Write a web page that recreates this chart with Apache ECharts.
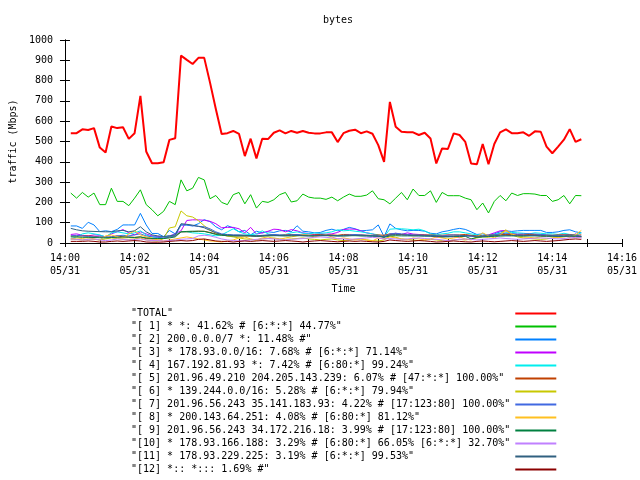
<!DOCTYPE html>
<html>
<head>
<meta charset="utf-8">
<script src="https://cdn.jsdelivr.net/npm/echarts@6/dist/echarts.min.js"></script>
<style>html,body{margin:0;padding:0;background:#fff;}#c{width:640px;height:480px;}</style>
</head>
<body>
<div id="c"></div>
<script>
// sampling grid: seconds after 14:00, first sample at 14:00:10, one every 10 s
const firstSec = 10;
const stepSec = 10;
const xTickLabels = ['14:00','14:02','14:04','14:06','14:08','14:10','14:12','14:14','14:16'];
const dateLabel = '05/31';

const names = [
  '"TOTAL"',
  '"[ 1] * *: 41.62% # [6:*:*] 44.77%"',
  '"[ 2] 200.0.0.0/7 *: 11.48% #"',
  '"[ 3] * 178.93.0.0/16: 7.68% # [6:*:*] 71.14%"',
  '"[ 4] 167.192.81.93 *: 7.42% # [6:80:*] 99.24%"',
  '"[ 5] 201.96.49.210 204.205.143.239: 6.07% # [47:*:*] 100.00%"',
  '"[ 6] * 139.244.0.0/16: 5.28% # [6:*:*] 79.94%"',
  '"[ 7] 201.96.56.243 35.141.183.93: 4.22% # [17:123:80] 100.00%"',
  '"[ 8] * 200.143.64.251: 4.08% # [6:80:*] 81.12%"',
  '"[ 9] 201.96.56.243 34.172.216.18: 3.99% # [17:123:80] 100.00%"',
  '"[10] * 178.93.166.188: 3.29% # [6:80:*] 66.05% [6:*:*] 32.70%"',
  '"[11] * 178.93.229.225: 3.19% # [6:*:*] 99.53%"',
  '"[12] *:: *::: 1.69% #"'
];

const total = [541,541,560,557,566,470,446,574,566,570,513,541,725,451,393,393,398,508,516,923,
  902,882,912,912,790,660,537,541,552,537,428,514,417,514,512,543,555,540,552,543,
  552,543,540,540,545,545,497,541,553,558,541,550,538,482,400,695,573,548,545,545,
  532,543,515,392,466,463,540,532,498,392,388,488,388,488,545,560,541,541,545,528,
  550,548,475,442,475,509,561,498,511];
const s1 = [246,221,249,226,246,189,189,270,205,205,184,221,262,189,164,134,156,205,189,311,
  257,270,323,311,218,234,200,189,238,249,193,238,172,205,200,213,238,249,202,208,
  241,226,221,221,215,226,208,226,241,230,230,236,257,218,213,193,221,249,213,266,
  234,234,257,200,249,233,233,233,221,213,164,197,148,205,234,208,246,234,243,243,
  241,234,234,205,213,234,193,234,233];
const s2 = [84,84,72,102,89,56,60,56,67,89,89,89,146,89,47,47,31,62,45,90,
  88,84,95,115,105,80,65,85,75,55,62,40,58,50,55,52,60,62,55,85,
  58,55,50,52,62,68,60,67,77,70,60,62,65,89,31,94,72,65,60,62,
  62,58,48,45,55,60,67,72,67,55,42,45,38,45,55,60,57,60,62,62,
  62,62,52,52,55,62,65,55,50];
const s3 = [42,45,38,35,40,38,30,45,55,66,50,40,55,45,35,32,30,35,45,60,
  111,114,114,112,107,95,75,77,77,70,50,77,44,50,58,68,66,55,66,60,
  50,47,42,45,43,45,52,66,69,68,60,50,45,35,30,40,48,42,50,44,
  42,40,35,28,30,33,30,28,35,36,28,32,40,50,60,62,45,42,40,38,
  38,40,38,36,38,40,30,45,25];
const s4 = [20,30,45,50,45,40,30,50,55,50,45,50,60,40,30,28,30,35,40,55,
  55,50,48,45,40,35,40,55,70,55,45,40,45,60,45,40,38,42,50,55,
  48,45,50,48,50,55,65,60,62,58,55,50,45,40,30,68,70,70,68,65,
  68,60,45,40,45,48,55,55,50,45,40,35,38,42,48,50,52,50,48,45,
  50,48,45,45,42,48,42,40,50];
const s5 = [35,35,35,35,33,30,28,30,35,30,30,28,30,22,20,20,22,30,35,55,
  55,56,58,58,52,45,40,35,35,35,35,35,33,35,38,40,38,40,42,40,
  40,38,40,42,40,40,38,42,42,40,40,38,38,40,38,45,45,42,42,40,
  40,40,40,38,38,40,40,40,42,38,35,35,38,40,42,42,42,40,40,42,
  42,40,38,38,40,40,42,38,40];
const s6 = [20,18,15,20,18,15,20,25,22,20,18,20,25,15,12,10,22,74,80,158,
  134,128,110,85,65,50,40,35,30,25,20,18,15,20,22,25,20,18,20,22,
  25,20,18,15,18,20,15,12,15,18,20,15,12,10,15,35,28,20,18,15,
  12,15,18,15,12,10,15,18,15,20,25,30,28,35,45,65,40,30,25,22,
  20,18,20,25,28,30,35,30,28];
const s7 = [35,38,35,32,30,30,28,30,35,38,35,40,45,35,30,28,25,30,35,88,
  90,85,82,80,70,55,45,42,40,40,38,36,35,38,40,42,40,38,40,42,
  40,38,36,38,40,38,36,38,40,42,40,38,36,35,30,45,48,45,42,40,
  40,38,38,36,35,38,40,38,36,34,32,34,36,40,45,48,46,44,45,46,
  44,42,40,38,36,38,40,36,34];
const s8 = [20,25,22,28,20,15,35,40,30,25,45,60,40,30,25,15,10,15,20,25,
  30,25,20,15,10,8,5,10,15,25,30,20,15,25,30,22,18,25,30,35,
  40,38,30,35,40,30,20,25,20,15,20,15,10,25,20,30,25,20,15,25,
  20,15,20,30,25,20,25,30,20,15,30,50,35,25,40,60,45,35,30,28,
  25,30,35,30,25,35,28,40,62];
const s9 = [30,30,28,28,27,26,25,27,28,30,28,27,30,25,22,22,22,25,30,55,
  57,58,58,57,50,42,38,36,35,35,35,35,34,34,35,36,36,35,35,36,
  36,35,35,36,36,36,35,35,36,36,35,35,34,33,28,35,36,35,35,35,
  35,34,34,33,30,30,32,32,33,20,28,30,32,33,34,35,35,35,34,35,
  35,34,33,33,32,33,34,33,32];
const s10 = [20,18,15,18,20,15,12,15,20,18,15,18,20,15,12,12,10,12,15,18,
  20,22,35,38,35,28,20,15,12,10,12,15,18,20,22,20,18,15,18,20,
  22,25,28,30,28,25,22,20,18,20,22,25,28,25,20,22,20,18,20,22,
  25,22,20,18,15,12,15,18,20,18,15,18,20,22,25,22,20,18,20,22,
  24,25,24,22,20,22,25,28,26];
const s11 = [72,65,60,58,57,56,55,55,60,62,55,60,80,55,40,35,32,35,40,95,
  92,88,82,75,62,50,42,40,38,38,38,36,35,36,38,38,36,36,38,38,
  36,35,36,38,38,36,35,35,36,38,36,35,34,33,30,40,42,40,38,36,
  36,35,34,33,32,32,34,35,36,34,33,33,34,36,38,38,37,36,37,38,
  37,36,35,34,33,34,35,33,32];
const s12 = [8,8,8,10,8,5,5,8,10,8,10,12,10,5,4,4,5,8,10,12,
  10,12,18,20,15,10,8,8,5,8,10,8,10,12,10,8,10,12,10,8,
  5,8,10,12,10,8,6,8,10,8,10,8,6,5,8,15,12,10,8,10,
  12,10,8,5,6,8,10,8,6,5,8,10,8,6,8,10,12,10,8,10,
  12,10,8,10,12,15,18,20,18];

const seriesValues = [total,s1,s2,s3,s4,s5,s6,s7,s8,s9,s10,s11,s12];
const colors = ['#ff0000','#00c000','#0080ff','#c000ff','#00eeee','#c04000','#c8c800',
  '#4169e1','#ffc020','#008040','#c080ff','#306080','#8b0000'];

const FONT = 'DejaVu Sans Mono';
const legendChars = 63;
const series = seriesValues.map((vals, si) => ({
  name: names[si],
  type: 'line',
  xAxisIndex: 0, yAxisIndex: 0,
  symbol: 'none',
  animation: false,
  lineStyle: { width: si === 0 ? 2 : 1, color: colors[si] },
  itemStyle: { color: colors[si] },
  data: vals.map((v, i) => [firstSec + i * stepSec, v])
}));

const legendData = names.map((n, i) => ({
  name: n,
  icon: 'rect',
  itemStyle: { color: colors[i], borderWidth: 0, borderColor: colors[i], opacity: 1 },
  lineStyle: { color: colors[i], width: 0, opacity: 0 }
}));

const chart = echarts.init(document.getElementById('c'), null, { renderer: 'canvas' });
chart.setOption({
  animation: false,
  backgroundColor: '#fff',
  textStyle: { fontFamily: FONT },
  title: {
    text: 'bytes', left: 318, top: 10,
    textStyle: { fontFamily: FONT, fontSize: 10, fontWeight: 'normal', color: '#000' }
  },
  grid: { left: 59, right: 18, top: 40, bottom: 237, containLabel: false },
  xAxis: [{
    type: 'value', min: 0, max: 960, interval: 120,
    name: 'Time', nameLocation: 'middle', nameGap: 41,
    nameTextStyle: { fontFamily: FONT, fontSize: 10, color: '#000' },
    axisLine: { show: true, lineStyle: { color: '#000', width: 1 } },
    axisTick: { show: true, inside: true, length: 4, lineStyle: { color: '#000' } },
    minorTick: { show: true, splitNumber: 2, length: 4, lineStyle: { color: '#000' } },
    splitLine: { show: false },
    axisLabel: {
      fontFamily: FONT, fontSize: 10, color: '#000', margin: 9, lineHeight: 13,
      showMinLabel: true, showMaxLabel: true, hideOverlap: false,
      formatter: v => xTickLabels[Math.round(v / 120)] + '\n' + dateLabel
    }
  }, {
    type: 'value', min: 0, max: 960, interval: 120, position: 'top',
    axisLine: { show: true, lineStyle: { color: '#000', width: 1 } },
    axisTick: { show: true, inside: true, length: 4, lineStyle: { color: '#000' } },
    minorTick: { show: true, splitNumber: 2, length: 4, lineStyle: { color: '#000' } },
    splitLine: { show: false },
    axisLabel: { show: false }
  }],
  yAxis: [{
    type: 'value', min: 0, max: 1000, interval: 100,
    name: 'traffic (Mbps)', nameLocation: 'middle', nameGap: 46, nameRotate: 90,
    nameTextStyle: { fontFamily: FONT, fontSize: 10, color: '#000' },
    axisLine: { show: true, lineStyle: { color: '#000', width: 1 } },
    axisTick: { show: true, inside: true, length: 5, lineStyle: { color: '#000' } },
    splitLine: { show: false },
    axisLabel: { fontFamily: FONT, fontSize: 10, color: '#000', margin: 12, formatter: v => String(v) }
  }, {
    type: 'value', min: 0, max: 1000, interval: 100, position: 'right',
    axisLine: { show: true, lineStyle: { color: '#000', width: 1 } },
    axisTick: { show: true, inside: true, length: 5, lineStyle: { color: '#000' } },
    splitLine: { show: false },
    axisLabel: { show: false }
  }],
  legend: {
    orient: 'vertical', left: 131, top: 307, padding: 0, itemGap: 0,
    align: 'right', itemWidth: 41, itemHeight: 2,
    selectedMode: false,
    formatter: name => name.padEnd(legendChars, ' '),
    textStyle: { fontFamily: FONT, fontSize: 10, color: '#000', lineHeight: 13 },
    data: legendData
  },
  series: series
});
</script>
</body>
</html>
